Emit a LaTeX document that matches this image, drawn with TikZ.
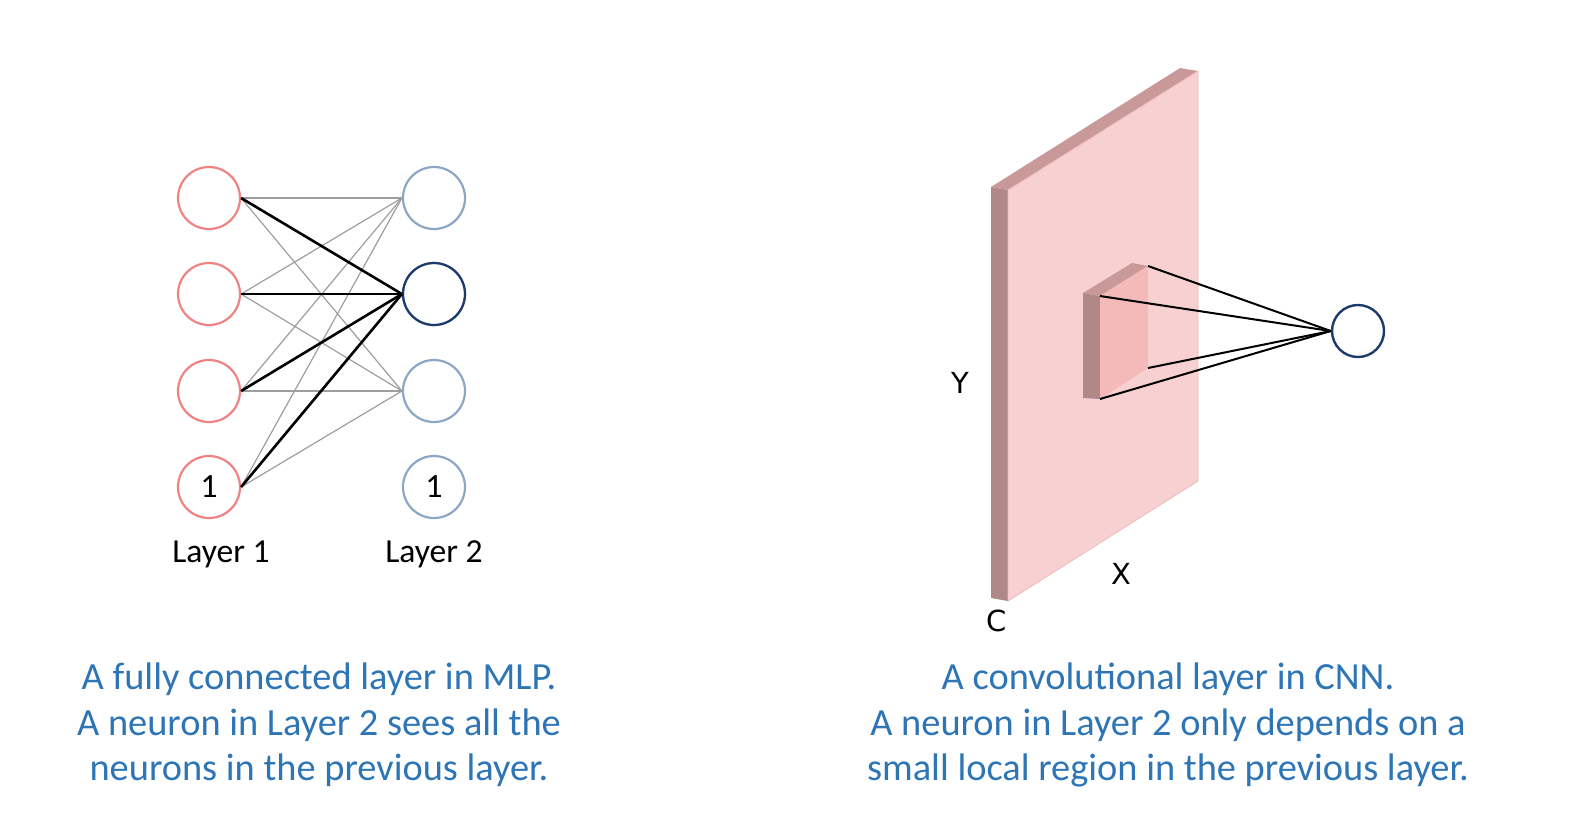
\documentclass[tikz,border=0pt]{standalone}
\usepackage{fontspec}
\setmainfont{Carlito}
\newfontfamily\axisfont{DejaVu Sans}
\usepackage{tikz}
\usetikzlibrary{calc, positioning}

\definecolor{inred}{RGB}{240,130,130}
\definecolor{outblue}{RGB}{140,166,198}
\definecolor{hiblue}{RGB}{28,58,106}
\definecolor{capblue}{RGB}{46,117,182}
\definecolor{faceC}{RGB}{247,209,209}
\definecolor{edgeC}{RGB}{240,186,186}
\definecolor{sideC}{RGB}{176,136,136}
\definecolor{topC}{RGB}{201,153,153}
\definecolor{patchC}{RGB}{244,186,186}

\begin{document}
\begin{tikzpicture}[x=0.5pt, y=-0.5pt,
  neuron/.style={circle, line width=1.1pt, minimum size=31pt, inner sep=0pt,
    font=\fontsize{17}{20}\selectfont},
  inneuron/.style={neuron, draw=inred},
  outneuron/.style={neuron, draw=outblue},
  link/.style={draw=black!38, line width=0.6pt},
  strong/.style={draw=black, line width=1.3pt},
  caption/.style={align=center, text=capblue, font=\fontsize{19.2}{22.75}\selectfont},
  axis/.style={font=\axisfont\fontsize{14.5}{17}\selectfont}]
  \useasboundingbox (0,0) rectangle (1578,816);

  % fully connected layer
  \foreach \i/\y in {1/198, 2/294, 3/391} {
    \node (a\i) at (209,\y) [inneuron] {};
    \node (b\i) at (434,\y) [outneuron] {};
  }
  \node (a4) at (209,487) [inneuron] {1};
  \node (b4) at (434,487) [outneuron] {1};
  \node (b2) at (434,294) [neuron, draw=hiblue] {};
  \foreach \i in {1,...,4} {
    \draw [link] (a\i.east) -- (b1.west);
    \draw [link] (a\i.east) -- (b3.west);
  }
  \foreach \i in {1,...,4}
    \draw [strong] (a\i.east) -- (b2.west);
  \node (l1) at (221,562) [anchor=base, font=\fontsize{16.8}{20}\selectfont] {Layer 1};
  \node (l2) at (434,562) [anchor=base, font=\fontsize{16.8}{20}\selectfont] {Layer 2};
  \node (capa) at (319,725) [caption] {A fully connected layer in MLP.\\
    A neuron in Layer 2 sees all the\\ neurons in the previous layer.};

  % convolutional layer
  \fill [topC] (991,187) -- (1180,68) -- (1198,71) -- (1008,190) -- cycle;
  \fill [sideC] (991,187) -- (1008,190) -- (1008,601) -- (991,598) -- cycle;
  \filldraw [fill=faceC, draw=edgeC, line width=0.4pt]
    (1008,190) -- (1198,71) -- (1198,481) -- (1008,601) -- cycle;
  \fill [topC] (1083,293) -- (1132,263) -- (1148,266) -- (1100,296) -- cycle;
  \fill [sideC] (1083,293) -- (1100,296) -- (1100,399) -- (1083,398) -- cycle;
  \fill [patchC] (1100,296) -- (1148,266) -- (1148,368) -- (1100,399) -- cycle;
  \coordinate (p1) at (1148,266);
  \coordinate (p2) at (1100,296);
  \coordinate (p3) at (1148,368);
  \coordinate (p4) at (1100,399);
  \node (n) at (1358,331) [circle, draw=hiblue, line width=1.2pt, minimum size=26pt, inner sep=0pt] {};
  \foreach \p in {p1,p2,p3,p4}
    \draw [black, line width=1pt] (\p) -- (n.west);
  \node (ay) at (960,383) [axis] {Y};
  \node (ax) at (1121,574) [axis] {X};
  \node (ac) at (997,621) [axis] {C};
  \node (capb) at (1168,725) [caption] {A convolutional layer in CNN.\\
    A neuron in Layer 2 only depends on a\\ small local region in the previous layer.};
\end{tikzpicture}
\end{document}
